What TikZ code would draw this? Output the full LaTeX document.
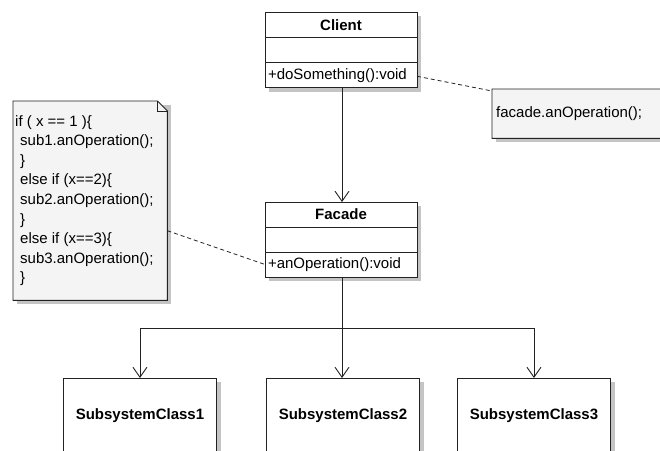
\documentclass[tikz,border=0pt]{standalone}
\usepackage{fontspec}
\setmainfont{Liberation Sans}
\usetikzlibrary{arrows.meta,backgrounds}

\definecolor{edge}{HTML}{222222}
\definecolor{notefill}{HTML}{F4F4F4}
\definecolor{shade}{HTML}{C4C4C4}

\tikzset{
  txt/.style={font=\fontsize{15}{19}\selectfont},
  row/.style={draw=edge, fill=white, line width=0.9pt, inner sep=0pt, outer sep=0pt,
    anchor=north, txt},
  titlerow/.style={row, font=\fontsize{15}{19}\selectfont\bfseries},
  oprow/.style={row, text width=#1-6pt, align=left, inner xsep=3pt},
  subbox/.style={draw=edge, fill=white, line width=0.9pt, inner sep=0pt,
    minimum width=153pt, minimum height=74pt, anchor=north west,
    font=\fontsize{15}{19}\selectfont\bfseries},
  noteshape/.style={draw=edge, fill=notefill, line width=0.9pt},
  shadowfill/.style={fill=shade},
  assoc/.style={draw=edge, line width=0.9pt, -{Straight Barb[length=10pt,width=14pt,line width=0.9pt]}},
  plain/.style={draw=edge, line width=0.9pt},
  anchorline/.style={draw=edge, line width=0.8pt, dash pattern=on 4pt off 3pt},
}

\begin{document}
\begin{tikzpicture}[x=1pt, y=-1pt]
\clip (0,0) rectangle (660,450);

% Client class
\node[titlerow, minimum width=152pt, minimum height=25.3pt, anchor=north west] (clientT) at (265,12) {Client};
\node[row, minimum width=152pt, minimum height=25.3pt] (clientA) at (clientT.south) {};
\node[oprow=152pt, minimum width=152pt, minimum height=25.3pt] (clientO) at (clientA.south) {+doSomething():void};

% Facade class
\node[titlerow, minimum width=152pt, minimum height=25pt, anchor=north west] (facadeT) at (265,202) {Facade};
\node[row, minimum width=152pt, minimum height=25pt] (facadeA) at (facadeT.south) {};
\node[oprow=152pt, minimum width=152pt, minimum height=25pt] (facadeO) at (facadeA.south) {+anOperation():void};

% Subsystem classes
\node[subbox] (sub1) at (63,378) {SubsystemClass1};
\node[subbox] (sub2) at (266,378) {SubsystemClass2};
\node[subbox] (sub3) at (457,378) {SubsystemClass3};

% Note holding the facade call (runs past the right edge)
\node[minimum width=180pt, minimum height=49pt, inner sep=0pt, anchor=north west] (callnote) at (492,89) {};
\path[noteshape] (callnote.north west) -- ([xshift=-10pt]callnote.north east)
  -- ([yshift=-10pt]callnote.north east) -- (callnote.south east)
  -- (callnote.south west) -- cycle;
\node[txt, anchor=west, inner sep=0pt] (calltext) at ([xshift=4pt]callnote.west) {facade.anOperation();};

% Note with the dispatch code (folded corner)
\node[minimum width=154pt, minimum height=199pt, inner sep=0pt, anchor=north west] (codenote) at (13,101) {};
\path[noteshape] (codenote.north west) -- ([xshift=-10pt]codenote.north east)
  -- ([yshift=-10pt]codenote.north east) -- (codenote.south east)
  -- (codenote.south west) -- cycle;
\draw[plain, line width=0.7pt] ([xshift=-10pt]codenote.north east) -- ([xshift=-10pt,yshift=-10pt]codenote.north east)
  -- ([yshift=-10pt]codenote.north east);
\node[anchor=north west, align=left, inner sep=0pt, font=\fontsize{15}{19.6}\selectfont]
  (code) at ([xshift=2pt,yshift=-14pt]codenote.north west)
  {if ( x == 1 )\{\\
   \hspace*{5pt}sub1.anOperation();\\
   \hspace*{5pt}\}\\
   \hspace*{5pt}else if (x==2)\{\\
   \hspace*{5pt}sub2.anOperation();\\
   \hspace*{5pt}\}\\
   \hspace*{5pt}else if (x==3)\{\\
   \hspace*{5pt}sub3.anOperation();\\
   \hspace*{5pt}\}};

% Drop shadows
\begin{scope}[on background layer]
  \fill[shadowfill] ([shift={(4pt,-4pt)}]clientT.north west) rectangle ([shift={(4pt,-4pt)}]clientO.south east);
  \fill[shadowfill] ([shift={(4pt,-4pt)}]facadeT.north west) rectangle ([shift={(4pt,-4pt)}]facadeO.south east);
  \fill[shadowfill] ([shift={(4pt,-4pt)}]sub1.north west) rectangle ([shift={(4pt,-4pt)}]sub1.south east);
  \fill[shadowfill] ([shift={(4pt,-4pt)}]sub2.north west) rectangle ([shift={(4pt,-4pt)}]sub2.south east);
  \fill[shadowfill] ([shift={(4pt,-4pt)}]sub3.north west) rectangle ([shift={(4pt,-4pt)}]sub3.south east);
  \fill[shadowfill] ([shift={(4pt,-4pt)}]callnote.north west) rectangle ([shift={(4pt,-4pt)}]callnote.south east);
  \fill[shadowfill] ([shift={(4pt,-4pt)}]codenote.north west) rectangle ([shift={(4pt,-4pt)}]codenote.south east);
\end{scope}

% Associations
\coordinate (bus) at (342,328);
\draw[assoc] (clientO.south -| bus) -- (facadeT.north -| bus);
\draw[plain] (facadeO.south -| bus) -- (bus);
\draw[assoc] (bus) -- (sub2.north -| bus);
\draw[assoc] (bus) -| (sub1.north);
\draw[assoc] (bus) -| (sub3.north);

% Note anchors
\draw[anchorline] ([yshift=-1pt]clientO.east) -- ([yshift=-2pt]callnote.north west);
\draw[anchorline] ([yshift=-30pt]codenote.east) -- (facadeO.west);
\end{tikzpicture}
\end{document}
